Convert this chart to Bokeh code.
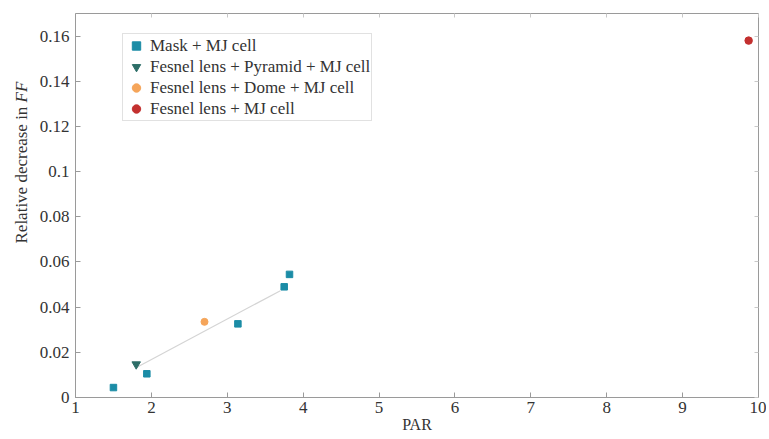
import math
from bokeh.plotting import figure
from bokeh.layouts import row
from bokeh.models import (Range1d, FixedTicker, CustomJSTickFormatter, LinearAxis, Label)
from bokeh.embed import file_html
from bokeh.resources import INLINE

# ---- data ----
mask_x = [1.50, 1.94, 3.14, 3.75, 3.82]
mask_y = [0.0044, 0.0105, 0.0326, 0.0490, 0.0545]
pyr_x = [1.80]
pyr_y = [0.0147]
dome_x = [2.70]
dome_y = [0.0335]
fres_x = [9.87]
fres_y = [0.158]
fit_x = [1.81, 3.70]
fit_y = [0.0134, 0.0473]

x_ticks = [1, 2, 3, 4, 5, 6, 7, 8, 9, 10]
y_ticks = [0, 0.02, 0.04, 0.06, 0.08, 0.1, 0.12, 0.14, 0.16]

labels = ["Mask + MJ cell", "Fesnel lens + Pyramid + MJ cell",
          "Fesnel lens + Dome + MJ cell", "Fesnel lens + MJ cell"]
y_label_main = "Relative decrease in"
y_label_italic = "FF"
x_label = "PAR"

FONT = "Liberation Serif"
AX = "#9a9a9a"
TXT = "#333333"

LEFT_W = 30

p = figure(frame_width=683, frame_height=384, output_backend="svg",
           toolbar_location=None, min_border_left=75 - LEFT_W, min_border_right=8,
           min_border_top=13, min_border_bottom=42,
           x_range=Range1d(1, 10), y_range=Range1d(0, 0.17))
p.grid.visible = False
p.outline_line_color = AX
p.background_fill_color = "white"
p.border_fill_color = "white"

p.line(fit_x, fit_y, line_color="#d4d4d4", line_width=1.2)
p.scatter(mask_x, mask_y, marker="square", size=6.5, color="#1b8ca6", legend_label=labels[0])
p.scatter(pyr_x, pyr_y, marker="inverted_triangle", size=8.5, color="#2d6e68", legend_label=labels[1])
p.scatter(dome_x, dome_y, marker="circle", size=7, color="#f5a55a", legend_label=labels[2])
p.scatter(fres_x, fres_y, marker="circle", size=7.5, color="#c3302f", legend_label=labels[3])

fmt = CustomJSTickFormatter(code="return String(parseFloat(tick.toFixed(4)));")
blank = CustomJSTickFormatter(code="return '';")

for ax in [p.xaxis[0], p.yaxis[0]]:
    ax.axis_line_color = AX
    ax.major_tick_line_color = AX
    ax.minor_tick_line_color = None
    ax.major_tick_in = 5
    ax.major_tick_out = 0
    ax.major_label_text_font = FONT
    ax.major_label_text_font_size = "17px"
    ax.major_label_text_color = TXT
    ax.formatter = fmt

p.xaxis[0].ticker = FixedTicker(ticks=x_ticks)
p.yaxis[0].ticker = FixedTicker(ticks=y_ticks)
p.xaxis[0].major_label_standoff = 4
p.yaxis[0].major_label_standoff = 6
p.xaxis[0].axis_label = x_label
p.xaxis[0].axis_label_text_font = FONT
p.xaxis[0].axis_label_text_font_style = "normal"
p.xaxis[0].axis_label_text_font_size = "16px"
p.xaxis[0].axis_label_text_color = TXT
p.xaxis[0].axis_label_standoff = 0

top = LinearAxis(ticker=FixedTicker(ticks=x_ticks), formatter=blank)
right = LinearAxis(ticker=FixedTicker(ticks=y_ticks), formatter=blank)
for ax in [top, right]:
    ax.axis_line_color = None
    ax.major_tick_line_color = "#c8c8c8"
    ax.minor_tick_line_color = None
    ax.major_tick_in = 4
    ax.major_tick_out = 0
    ax.major_label_standoff = 0
    ax.major_label_text_font_size = "1px"
p.add_layout(top, "above")
p.add_layout(right, "right")

lg = p.legend[0]
lg.location = (47, 276)
lg.label_text_font = FONT
lg.label_text_font_size = "17px"
lg.label_text_color = TXT
lg.label_height = 21
lg.glyph_height = 21
lg.glyph_width = 24
lg.label_standoff = 2
lg.spacing = 0
lg.padding = 1
lg.margin = 0
lg.border_line_color = "#c4c4c4"
lg.border_line_width = 1
lg.background_fill_alpha = 1

# narrow side figure carrying the y-axis title (mixed upright / italic text)
H = 13 + 384 + 42
side = figure(width=LEFT_W, height=H, output_backend="svg", toolbar_location=None,
              x_axis_type=None, y_axis_type=None, min_border=0,
              x_range=Range1d(0, 1), y_range=Range1d(0, 1))
side.grid.visible = False
side.outline_line_color = None
side.border_fill_color = "white"
side.background_fill_color = "white"
side.add_layout(Label(x=21, y=H - 285, x_units="screen", y_units="screen",
                      text=y_label_main, angle=math.pi / 2,
                      text_align="left", text_baseline="middle",
                      text_font=FONT, text_font_size="17px", text_color=TXT))
side.add_layout(Label(x=21, y=H - 144, x_units="screen", y_units="screen",
                      text=y_label_italic, angle=math.pi / 2,
                      text_align="left", text_baseline="middle",
                      text_font=FONT, text_font_size="17px", text_font_style="italic",
                      text_color=TXT))

layout = row(side, p, spacing=0)
open("out.html", "w").write(file_html(layout, INLINE))
